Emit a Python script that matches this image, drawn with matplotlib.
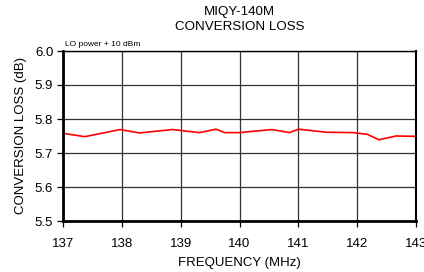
import numpy as np
import matplotlib
matplotlib.use("Agg")
import matplotlib.pyplot as plt

plt.rcParams['font.family'] = ['Liberation Sans', 'DejaVu Sans']

# conversion loss vs frequency
freq_mhz = [137.0, 137.37, 137.97, 138.3, 138.86, 139.32, 139.6, 139.75, 140.0,
            140.55, 140.85, 141.0, 141.48, 141.93, 142.17, 142.37, 142.66, 143.0]
loss_db = [5.758, 5.748, 5.769, 5.759, 5.769, 5.760, 5.770, 5.760, 5.760,
           5.769, 5.760, 5.770, 5.761, 5.760, 5.755, 5.739, 5.750, 5.749]

x_ticks = [137, 138, 139, 140, 141, 142, 143]
y_ticks = [5.5, 5.6, 5.7, 5.8, 5.9, 6.0]

fig = plt.figure(figsize=(4.24, 2.72), dpi=100)
ax = fig.add_axes([63 / 424, 51 / 272, (416 - 63) / 424, (221 - 51) / 272])

ax.plot(freq_mhz, loss_db, color='#ff0000', linewidth=1.2)

ax.set_xlim(137, 143)
ax.set_ylim(5.5, 6.0)
ax.set_xticks(x_ticks)
ax.set_yticks(y_ticks)
ax.set_yticklabels(["%.1f" % v for v in y_ticks])
ax.grid(True, color='#333333', linewidth=0.9)
ax.tick_params(direction='out', length=4, width=0.9, labelsize=9.5, pad=3)
ax.tick_params(axis='x', pad=8)

for side in ['left', 'bottom']:
    ax.spines[side].set_linewidth(2)
ax.spines['top'].set_linewidth(1)
ax.spines['right'].set_linewidth(1.5)

ax.set_xlabel("FREQUENCY (MHz)", fontsize=9.5, labelpad=5)
ax.set_ylabel("CONVERSION LOSS (dB)", fontsize=9.5, labelpad=6)
ax.set_title("MIQY-140M\nCONVERSION LOSS", fontsize=9.6, linespacing=1.4, pad=15)
ax.text(0.005, 1.02, "LO power + 10 dBm", transform=ax.transAxes, fontsize=6,
        va='bottom', ha='left')

fig.savefig("out.png", dpi=100)
